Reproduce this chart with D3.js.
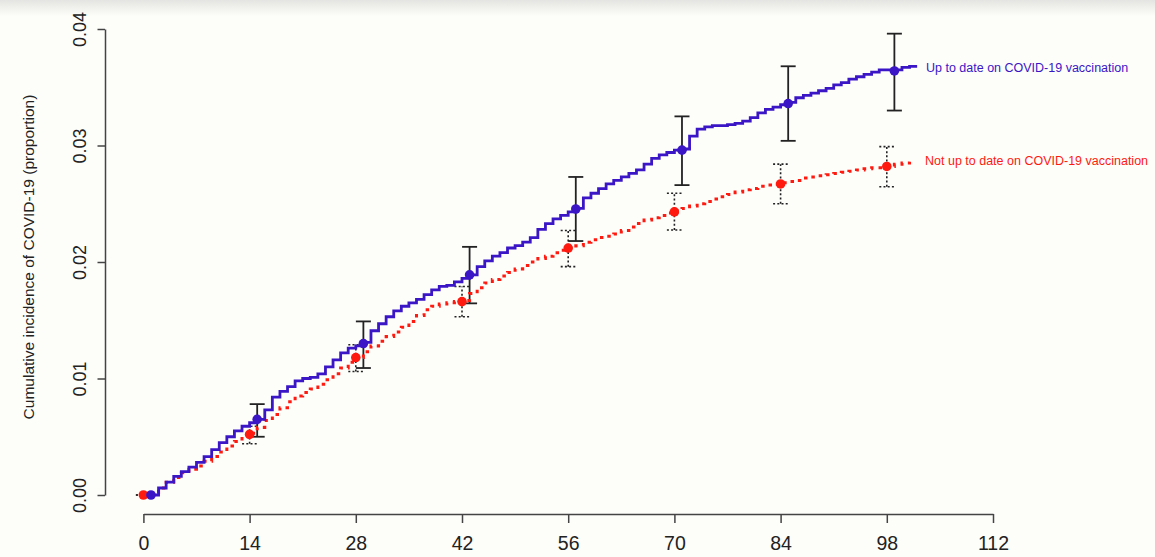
<!DOCTYPE html>
<html><head><meta charset="utf-8">
<script src="https://cdn.jsdelivr.net/npm/d3@7"></script>
<style>
html,body{margin:0;padding:0;background:#fdfdfa;}
svg{display:block;}
text{font-family:"Liberation Sans",Arial,Helvetica,sans-serif;}
</style></head>
<body><svg id="c" width="1155" height="557"></svg>
<script>
// ---- data ----
const xTicks = [0, 14, 28, 42, 56, 70, 84, 98, 112];
const yTicks = [0.00, 0.01, 0.02, 0.03, 0.04];
const yTitle = "Cumulative incidence of COVID-19 (proportion)";
const seriesNames = ["Up to date on COVID-19 vaccination", "Not up to date on COVID-19 vaccination"];

// step curve (up to date), value from day blueStart onward, one per day
const blueStart = 1;
const blueCum = [0,0.0006,0.0011,0.0016,0.0020,0.0024,0.0028,0.0033,0.0039,0.0045,
  0.0050,0.0055,0.0059,0.0062,0.0065,0.0073,0.0084,0.0089,0.0093,0.0098,
  0.0100,0.0101,0.0104,0.0110,0.0116,0.0122,0.0126,0.0128,0.0131,0.0141,
  0.0147,0.0153,0.0158,0.0162,0.0165,0.0168,0.0172,0.0176,0.0179,0.0180,
  0.0183,0.0186,0.0189,0.0196,0.0201,0.0205,0.0208,0.0212,0.0214,0.0217,
  0.0221,0.0228,0.0233,0.0237,0.0240,0.0243,0.0246,0.0255,0.0259,0.0263,
  0.0267,0.0270,0.0273,0.0276,0.0279,0.0284,0.0289,0.0292,0.0294,0.0296,
  0.0297,0.0308,0.0314,0.0316,0.0317,0.0317,0.0318,0.0319,0.0321,0.0324,
  0.0328,0.0331,0.0333,0.0335,0.0337,0.0341,0.0343,0.0345,0.0347,0.0349,
  0.0352,0.0354,0.0357,0.0359,0.0361,0.0363,0.0365,0.0365,0.0365,0.0367,
  0.0368];
const blueEnd = 102;

// step curve (not up to date), one per day from day 0
const redStart = 0;
const redCum = [0,0.0002,0.0006,0.0011,0.0015,0.0019,0.0022,0.0025,0.0029,0.0033,
  0.0037,0.0042,0.0046,0.0050,0.0053,0.0058,0.0064,0.0069,0.0075,0.0080,
  0.0085,0.0088,0.0091,0.0095,0.0099,0.0104,0.0109,0.0114,0.0118,0.0123,
  0.0128,0.0132,0.0136,0.0140,0.0144,0.0149,0.0154,0.0159,0.0162,0.0164,
  0.0165,0.0166,0.0167,0.0173,0.0178,0.0182,0.0185,0.0188,0.0191,0.0194,
  0.0197,0.0200,0.0203,0.0205,0.0208,0.0210,0.0212,0.0214,0.0217,0.0219,
  0.0221,0.0222,0.0224,0.0227,0.0230,0.0233,0.0236,0.0238,0.0240,0.0242,
  0.0244,0.0246,0.0248,0.0250,0.0252,0.0254,0.0256,0.0258,0.0260,0.0262,
  0.0263,0.0265,0.0266,0.0267,0.0268,0.0269,0.0270,0.0272,0.0273,0.0274,
  0.0275,0.0276,0.0277,0.0278,0.0279,0.0280,0.0281,0.0281,0.0282,0.0284,
  0.0285,0.0286];
const redEnd = 101;

// point estimates with confidence intervals
const blueMarkDays = [1, 15, 29, 43, 57, 71, 85, 99];
const blueMarkVals = [0, 0.0065, 0.0130, 0.0189, 0.02455, 0.0296, 0.0336, 0.0364];
const blueLo = [0, 0.0050, 0.0109, 0.01645, 0.0218, 0.0266, 0.0304, 0.0330];
const blueHi = [0, 0.0078, 0.0149, 0.0213, 0.0273, 0.0325, 0.0368, 0.0396];
const redMarkDays = [0, 14, 28, 42, 56, 70, 84, 98];
const redMarkVals = [0, 0.0052, 0.0118, 0.0166, 0.0212, 0.0243, 0.0267, 0.0282];
const redLo = [0, 0.0044, 0.0106, 0.0153, 0.0196, 0.02275, 0.0250, 0.02646];
const redHi = [0, 0.0059, 0.0129, 0.0179, 0.0227, 0.0259, 0.0284, 0.0299];

// ---- drawing ----
const BLUE = "#3a16c6", RED = "#ff1a10", AX = "#444";
const svg = d3.select("#c");
const defs = svg.append("defs");
const lg = defs.append("linearGradient").attr("id","topg").attr("x1",0).attr("x2",0).attr("y1",0).attr("y2",1);
lg.append("stop").attr("offset","0%").attr("stop-color","#e4e4e2");
lg.append("stop").attr("offset","100%").attr("stop-color","#fdfdfa");
svg.append("rect").attr("x",0).attr("y",0).attr("width",1155).attr("height",16).attr("fill","url(#topg)");

const x = d3.scaleLinear().domain([0, 112]).range([143.4, 993]);
const y = d3.scaleLinear().domain([0, 0.04]).range([495, 29]);

// axes
const gy = svg.append("g").attr("transform","translate(105,0)")
  .call(d3.axisLeft(y).tickValues(yTicks).tickSize(7.5).tickSizeOuter(0).tickFormat(d3.format(".2f")));
gy.select(".domain").attr("stroke",AX).attr("stroke-width",1.5);
gy.selectAll(".tick line").attr("stroke",AX).attr("stroke-width",1.5);
gy.selectAll(".tick text").attr("fill","#222").attr("font-size",18)
  .attr("x",null).attr("dy",null).attr("text-anchor","middle")
  .attr("transform","translate(-19,0) rotate(-90)");

const gx = svg.append("g").attr("transform","translate(0,514)")
  .call(d3.axisBottom(x).tickValues(xTicks).tickSize(9).tickSizeOuter(0).tickFormat(d3.format("d")));
gx.select(".domain").attr("stroke",AX).attr("stroke-width",1.5);
gx.selectAll(".tick line").attr("stroke",AX).attr("stroke-width",1.5);
gx.selectAll(".tick text").attr("fill","#222").attr("font-size",19.5).attr("y",36).attr("dy",null);

svg.append("text").attr("transform","translate(34,257) rotate(-90)")
  .attr("text-anchor","middle").attr("font-size",15.5).attr("fill","#222").text(yTitle);

// error bars
function bars(days, lo, hi, dashed, cls){
  const g = svg.append("g").attr("class",cls).attr("stroke","#222")
    .attr("stroke-width", dashed ? 1.6 : 1.8).attr("fill","none");
  if (dashed) g.attr("stroke-dasharray","2,2.2");
  days.forEach((d,i)=>{
    g.append("line").attr("x1",x(d)).attr("x2",x(d)).attr("y1",y(lo[i])).attr("y2",y(hi[i]));
    [lo[i],hi[i]].forEach(v=>g.append("line").attr("x1",x(d)-7.5).attr("x2",x(d)+7.5).attr("y1",y(v)).attr("y2",y(v)));
  });
}
bars(redMarkDays, redLo, redHi, true, "redbars");
bars(blueMarkDays, blueLo, blueHi, false, "bluebars");

// step lines
const blueData = blueCum.map((v,i)=>[blueStart+i, v]).concat([[blueEnd, blueCum[blueCum.length-1]]]);
const redData = redCum.map((v,i)=>[redStart+i, v]).concat([[redEnd, redCum[redCum.length-1]]]);
const line = d3.line().x(d=>x(d[0])).y(d=>y(d[1])).curve(d3.curveStepAfter);
svg.append("path").datum(redData).attr("d",line).attr("fill","none")
  .attr("stroke",RED).attr("stroke-width",3).attr("stroke-dasharray","3.5,5");
svg.append("path").datum(blueData).attr("d",line).attr("fill","none")
  .attr("stroke",BLUE).attr("stroke-width",2.8).attr("stroke-linejoin","miter");

// markers
svg.append("g").selectAll("circle").data(redMarkDays).join("circle")
  .attr("cx",d=>x(d)).attr("cy",(d,i)=>y(redMarkVals[i])).attr("r",4.8).attr("fill",RED);
svg.append("g").selectAll("circle").data(blueMarkDays).join("circle")
  .attr("cx",d=>x(d)).attr("cy",(d,i)=>y(blueMarkVals[i])).attr("r",4.8).attr("fill",BLUE);

// labels
svg.append("text").attr("x",926).attr("y",72).attr("font-size",12.5).attr("fill",BLUE).text(seriesNames[0]);
svg.append("text").attr("x",925).attr("y",164.5).attr("font-size",12.5).attr("fill",RED).text(seriesNames[1]);
</script></body></html>
